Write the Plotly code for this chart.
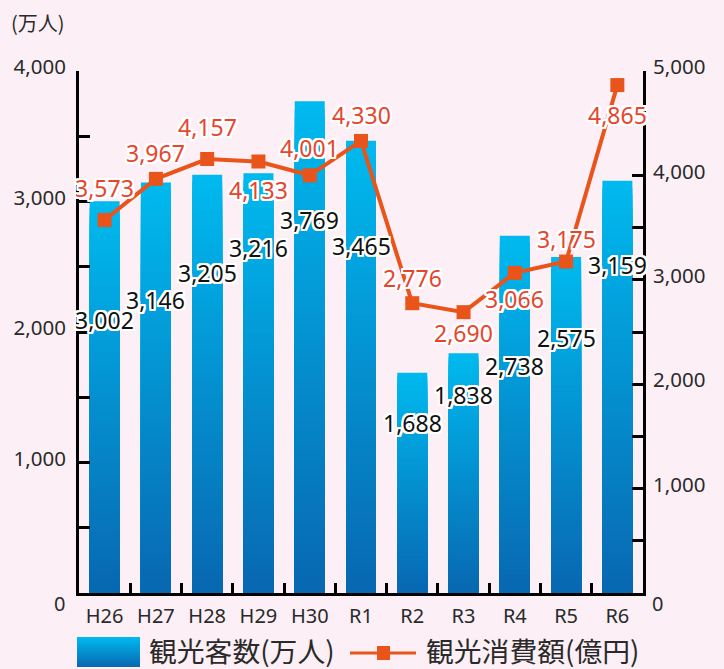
import plotly.graph_objects as go

# ---- data ----
categories = ["H26", "H27", "H28", "H29", "H30", "R1", "R2", "R3", "R4", "R5", "R6"]
visitors = [3002, 3146, 3205, 3216, 3769, 3465, 1688, 1838, 2738, 2575, 3159]      # 万人
spending = [3573, 3967, 4157, 4133, 4001, 4330, 2776, 2690, 3066, 3175, 4865]      # 億円
left_ticks = [0, 500, 1000, 1500, 2000, 2500, 3000, 3500, 4000]
right_ticks = [0, 500, 1000, 1500, 2000, 2500, 3000, 3500, 4000, 4500, 5000]

# label pixel offsets (style only)
visitor_label_shift = [-119, -118, -98, -75, -119, -105, -50, -42, -130, -81, -84]
spending_label_shift = [32, 26, 32, -28, 27, 26, 25, -21, -26, 23, -30]

BG = "#fcf0f6"
TOP = (0, 186, 239)
BOT = (8, 103, 177)
LINE = "#e9541b"
LABEL_RED = "#e8442d"
TXT = "#2a2a2a"
NUM_FONT = "Noto Sans"
JP_FONT = "Noto Sans CJK JP"
HALO = ",".join(f"{dx}px {dy}px 0 #fff" for dx in (-2, -1, 0, 1, 2) for dy in (-2, -1, 0, 1, 2) if dx or dy)


def mix(f):
    c = [round(BOT[i] + (TOP[i] - BOT[i]) * f) for i in range(3)]
    return f"rgb({c[0]},{c[1]},{c[2]})"


def fmt(v):
    return f"{v:,}"


fig = go.Figure()

# gradient bars: layered overlay bars, tallest (lightest) first
N = 60
for k in range(N):
    frac = 1 - k / N
    fig.add_trace(go.Bar(
        x=categories, y=[v * frac for v in visitors],
        marker=dict(color=mix(frac - 0.5 / N), line=dict(width=0)),
        width=0.585, hoverinfo="skip", showlegend=False, yaxis="y",
    ))

fig.add_trace(go.Scatter(
    x=categories, y=spending, mode="lines+markers", yaxis="y2",
    line=dict(color=LINE, width=4),
    marker=dict(symbol="square", size=14, color=LINE),
    showlegend=False,
))

ann = []
for c, v, s in zip(categories, visitors, visitor_label_shift):
    ann.append(dict(x=c, y=v, xref="x", yref="y", text=fmt(v), showarrow=False,
                    yshift=s, font=dict(family=NUM_FONT, size=23, color="#111", shadow=HALO)))
for c, v, s in zip(categories, spending, spending_label_shift):
    ann.append(dict(x=c, y=v, xref="x", yref="y2", text=fmt(v), showarrow=False,
                    yshift=s, font=dict(family=NUM_FONT, size=23, color=LABEL_RED, shadow=HALO)))

# px -> paper helpers for the fixed frame
L, R, T, B = 79, 643, 71, 593
px = lambda p: (p - L) / (R - L)
py = lambda p: (B - p) / (B - T)

ann.append(dict(x=px(38), y=py(23), xref="paper", yref="paper", text="(万人)", showarrow=False,
                xanchor="center", yanchor="middle", font=dict(family=JP_FONT, size=20, color=TXT)))
ann.append(dict(x=px(67), y=0, xref="paper", yref="y", text="0", showarrow=False, yshift=-10,
                xanchor="right", yanchor="middle", font=dict(family=NUM_FONT, size=20, color=TXT)))
ann.append(dict(x=px(650), y=0, xref="paper", yref="y", text="0", showarrow=False, yshift=-10,
                xanchor="left", yanchor="middle", font=dict(family=NUM_FONT, size=20, color=TXT)))
ann.append(dict(x=px(147), y=py(650), xref="paper", yref="paper", text="観光客数(万人)", showarrow=False,
                xanchor="left", yanchor="middle", font=dict(family=JP_FONT, size=27.8, color=TXT)))
ann.append(dict(x=px(424), y=py(650), xref="paper", yref="paper", text="観光消費額(億円)", showarrow=False,
                xanchor="left", yanchor="middle", font=dict(family=JP_FONT, size=27.8, color=TXT)))

shapes = []
M = 30
for i in range(M):
    y0 = 637 + 30 * i / M
    y1 = 637 + 30 * (i + 1) / M + 0.5
    shapes.append(dict(type="rect", xref="paper", yref="paper", x0=px(77), x1=px(140),
                       y0=py(y0), y1=py(min(y1, 667)), line=dict(width=0),
                       fillcolor=mix(1 - (i + 0.5) / M), layer="above"))
shapes.append(dict(type="line", xref="paper", yref="paper", x0=px(350), x1=px(416),
                   y0=py(653), y1=py(653), line=dict(color=LINE, width=3)))
shapes.append(dict(type="rect", xref="paper", yref="paper", x0=px(377), x1=px(390),
                   y0=py(646), y1=py(660), line=dict(width=0), fillcolor=LINE))

fig.update_layout(
    width=724, height=669,
    margin=dict(l=L, r=724 - R, t=T, b=669 - B),
    paper_bgcolor=BG, plot_bgcolor=BG,
    barmode="overlay", showlegend=False,
    annotations=ann, shapes=shapes,
    xaxis=dict(type="category", range=[-0.5, len(categories) - 0.5],
               showline=True, linecolor="#000", linewidth=3,
               ticks="inside", tickson="boundaries", ticklen=10, tickwidth=3, tickcolor="#000",
               showgrid=False, zeroline=False, ticklabelstandoff=3,
               tickfont=dict(family=NUM_FONT, size=20, color=TXT)),
    yaxis=dict(range=[0, 4000], tickvals=left_ticks,
               ticktext=["" if (v % 1000 or v == 0) else fmt(v) for v in left_ticks],
               showline=True, linecolor="#000", linewidth=3, ticks="inside", ticklen=11,
               tickwidth=3, tickcolor="#000", showgrid=False, zeroline=False,
               ticklabelstandoff=6, ticklabelshift=-4,
               tickfont=dict(family=NUM_FONT, size=20.5, color=TXT)),
    yaxis2=dict(range=[0, 5000], tickvals=right_ticks,
                ticktext=["" if (v % 1000 or v == 0) else fmt(v) for v in right_ticks],
                overlaying="y", side="right", anchor="x",
                showline=True, linecolor="#000", linewidth=3, ticks="inside", ticklen=11,
                tickwidth=3, tickcolor="#000", showgrid=False, zeroline=False,
                ticklabelstandoff=3, ticklabelshift=-4,
                tickfont=dict(family=NUM_FONT, size=20.5, color=TXT)),
)

fig.write_html(
    "out.html",
    config={"displayModeBar": False},
    post_script="document.body.style.margin='0';document.body.style.background='" + BG + "';"
                "document.documentElement.style.overflow='hidden';",
)
